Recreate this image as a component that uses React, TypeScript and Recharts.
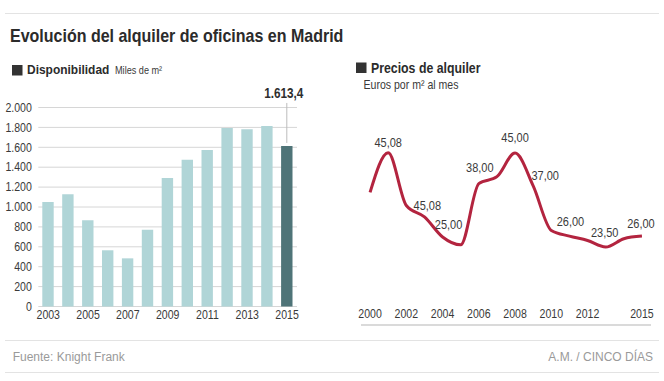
import React from 'react';
import {
  BarChart, Bar, XAxis, YAxis, CartesianGrid, Cell, LabelList,
  LineChart, Line,
} from 'recharts';

// ---------- Data ----------
const barYears = ['2003', '2004', '2005', '2006', '2007', '2008', '2009', '2010', '2011', '2012', '2013', '2014', '2015'];
const disponibilidad = [1050, 1128, 866, 565, 484, 772, 1291, 1475, 1573, 1794, 1781, 1814, 1613.4];
const barYTicks = [0, 200, 400, 600, 800, 1000, 1200, 1400, 1600, 1800, 2000];
const highlightLabel = '1.613,4';

const lineYears = [2000, 2001, 2002, 2003, 2004, 2005, 2006, 2007, 2008, 2009, 2010, 2011, 2012, 2013, 2014, 2015];
const precios = [36.0, 45.08, 33.0, 30.4, 25.8, 24.0, 38.0, 39.6, 45.0, 37.5, 27.3, 26.0, 25.0, 23.5, 25.4, 26.0];
const precioLabels = ['', '45,08', '45,08', '', '25,00', '', '38,00', '', '45,00', '37,00', '', '26,00', '', '23,50', '', '26,00'];
const lineTickLabels = [2000, 2002, 2004, 2006, 2008, 2010, 2012, 2015];

const barData = barYears.map((y, i) => ({ year: y, value: disponibilidad[i] }));
const lineData = lineYears.map((y, i) => ({ year: y, value: precios[i], label: precioLabels[i] }));
const yearBoundaries = [...lineYears.map((y) => y - 0.5), lineYears[lineYears.length - 1] + 0.5];

// ---------- Styles ----------
const SANS = "'Liberation Sans', Arial, Helvetica, sans-serif";
const TEXT = '#3a3a3a';
const BAR = '#b0d5d7';
const BAR_DARK = '#4f7478';
const LINE = '#b3243f';
const GRID = '#d6d6d6';
const SX = 0.88;

const labelShift: Record<number, [number, number]> = {
  1: [0, -6], 2: [21, 4], 4: [6, -8], 6: [1, -12], 8: [0, -11], 9: [12, -6],
  11: [1, -10], 13: [-1, -10], 15: [-1, -8],
};

const fmtThousands = (v: number) => String(Math.round(v)).replace(/\B(?=(\d{3})+(?!\d))/g, '.');

const NText = ({ x, y, size, weight = 'normal', anchor = 'start', fill = TEXT, sx = SX, dy, children }: any) => (
  <text
    transform={`translate(${x},${y}) scale(${sx},1)`}
    x={0}
    y={0}
    dy={dy}
    textAnchor={anchor}
    fontFamily={SANS}
    fontSize={size}
    fontWeight={weight}
    fill={fill}
  >
    {children}
  </text>
);

const YTick = ({ x, y, payload }: any) => (
  <NText x={x} y={y} anchor="end" dy="0.355em" size={12}>{fmtThousands(payload.value)}</NText>
);
const XTick = ({ x, y, payload }: any) => (
  <NText x={x} y={y} anchor="middle" dy="0.71em" size={12}>{payload.value}</NText>
);

const HighlightLabel = (props: any) => {
  const { x, y, width, index } = props;
  if (index !== disponibilidad.length - 1) return null;
  const cx = x + width / 2;
  return (
    <g>
      <line x1={cx} x2={cx} y1={y - 43} y2={y - 3} stroke="#bdbdbd" strokeWidth={1} />
      <NText x={cx - 3} y={y - 47.5} anchor="middle" size={14} weight="bold" fill="#2e2e2e" sx={0.84}>
        {highlightLabel}
      </NText>
    </g>
  );
};

const PriceLabel = (props: any) => {
  const { x, y, index, value } = props;
  if (!value) return null;
  const [dx, dy] = labelShift[index] || [0, -10];
  return (
    <NText x={x + dx} y={y + dy} anchor="middle" size={12.5}>{value}</NText>
  );
};

export default function App() {
  return (
    <div style={{ position: 'absolute', left: 0, top: 0, width: 664, height: 381, background: '#fff', overflow: 'hidden' }}>
      <svg width={664} height={381} style={{ position: 'absolute', left: 0, top: 0 }}>
        <line x1={5} x2={659} y1={13.5} y2={13.5} stroke="#e3e3e3" strokeWidth={1} />
        <NText x={10} y={41.7} size={18} weight="bold" fill="#2b2b2b" sx={0.89}>
          Evolución del alquiler de oficinas en Madrid
        </NText>
        <rect x={12} y={65} width={10.5} height={10.5} fill="#333" />
        <NText x={27} y={74} size={13} weight="bold" fill="#2b2b2b" sx={0.92}>Disponibilidad</NText>
        <NText x={115} y={74} size={10.5} sx={0.87}>Miles de m²</NText>
        <rect x={356} y={62.5} width={10.5} height={10.5} fill="#333" />
        <NText x={371} y={72.5} size={14} weight="bold" fill="#2b2b2b">Precios de alquiler</NText>
        <NText x={363.5} y={88.5} size={12}>Euros por m² al mes</NText>
        <line x1={5} x2={659} y1={340.5} y2={340.5} stroke="#e3e3e3" strokeWidth={1} />
        <line x1={5} x2={659} y1={372.5} y2={372.5} stroke="#e3e3e3" strokeWidth={1} />
        <text x={12.7} y={360.5} fontFamily={SANS} fontSize={12} fill="#9a9a9a">Fuente: Knight Frank</text>
        <text x={653} y={360.5} textAnchor="end" fontFamily={SANS} fontSize={12} fill="#9a9a9a">A.M. / CINCO DÍAS</text>
      </svg>

      <div style={{ position: 'absolute', left: 0, top: 0 }}>
        <BarChart width={310} height={330} data={barData} margin={{ top: 107.5, right: 13, bottom: 3.5, left: 0 }}>
          <CartesianGrid vertical={false} stroke={GRID} />
          <YAxis
            width={38.3}
            domain={[0, 2000]}
            ticks={barYTicks}
            interval={0}
            axisLine={false}
            tickLine={false}
            tickSize={0}
            tickMargin={6.5}
            tick={YTick}
          />
          <XAxis
            dataKey="year"
            interval={1}
            axisLine={false}
            tickLine={false}
            tickSize={0}
            tickMargin={3.5}
            height={20}
            tick={XTick}
          />
          <Bar dataKey="value" barSize={11.4} isAnimationActive={false}>
            {barData.map((d, i) => (
              <Cell key={d.year} fill={i === barData.length - 1 ? BAR_DARK : BAR} />
            ))}
            <LabelList dataKey="value" content={HighlightLabel} />
          </Bar>
        </BarChart>
      </div>

      <div style={{ position: 'absolute', left: 340, top: 0 }}>
        <LineChart width={324} height={330} data={lineData} margin={{ top: 109.4, right: 13, bottom: 4, left: 21 }}>
          <XAxis
            xAxisId="ticks"
            dataKey="year"
            type="number"
            domain={[yearBoundaries[0], yearBoundaries[yearBoundaries.length - 1]]}
            ticks={yearBoundaries}
            interval={0}
            tick={false}
            tickSize={-4}
            height={1}
            axisLine={{ stroke: '#b5b5b5' }}
            tickLine={{ stroke: '#b5b5b5' }}
          />
          <XAxis
            xAxisId="labels"
            dataKey="year"
            type="number"
            domain={[yearBoundaries[0], yearBoundaries[yearBoundaries.length - 1]]}
            ticks={lineTickLabels}
            interval={0}
            axisLine={false}
            tickLine={false}
            tickSize={0}
            tickMargin={3}
            height={19}
            tick={XTick}
          />
          <YAxis hide domain={[10, 55]} />
          <Line
            xAxisId="ticks"
            type="monotone"
            dataKey="value"
            stroke={LINE}
            strokeWidth={3}
            dot={false}
            isAnimationActive={false}
          >
            <LabelList dataKey="label" content={PriceLabel} />
          </Line>
        </LineChart>
      </div>
    </div>
  );
}
